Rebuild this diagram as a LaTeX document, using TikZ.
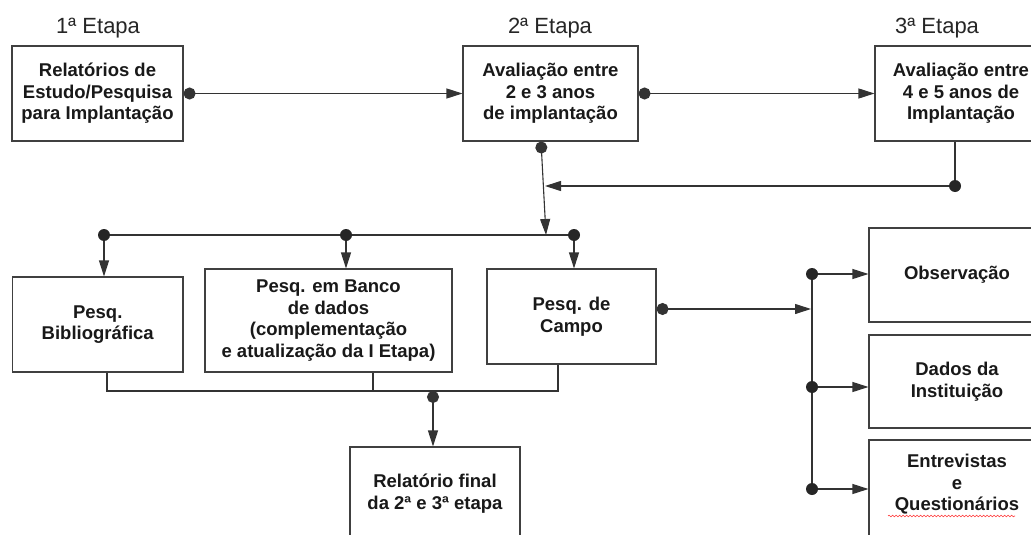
\documentclass[tikz,border=0pt]{standalone}
\usepackage{fontspec}
\setmainfont{Liberation Sans}
\usetikzlibrary{arrows.meta,decorations.pathmorphing}
\begin{document}
\begin{tikzpicture}[x=1pt,y=-1pt,
  box/.style={draw=black!75, line width=1.1pt, fill=white, inner sep=0pt},
  lbl/.style={font=\fontsize{18.5}{21.5}\selectfont\bfseries, align=center, text=black!90},
  ttl/.style={font=\fontsize{22}{24}\selectfont, text=black!85, anchor=base},
  link/.style={draw=black!80, line width=1.1pt},
  arr/.style={link, -{Triangle[length=16pt,width=10pt]}},
  darr/.style={link, {Circle[length=12pt]}-{Triangle[length=16pt,width=10pt]}},
  dotc/.style={fill=black!85},
]
\useasboundingbox (0,0) rectangle (1031,535);
\fill[white] (0,0) rectangle (1031,535);

% titles
\node[ttl] (t1) at (98,34) {1ª Etapa};
\node[ttl] (t2) at (550,34) {2ª Etapa};
\node[ttl] (t3) at (937,34) {3ª Etapa};

% top boxes
\node[box,lbl,minimum width=171pt,minimum height=95pt] (A) at (97.5,93.5) {Relatórios de\\Estudo/Pesquisa\\para Implantação};
\node[box,lbl,minimum width=175pt,minimum height=95pt] (B) at (550.5,93.5) {Avaliação entre\\2 e 3 anos\\de implantação};
\node[box,lbl,minimum width=172pt,minimum height=95pt] (C) at (961,93.5) {Avaliação entre\\4 e 5 anos de\\Implantação};

% middle boxes
\node[box,lbl,minimum width=170.5pt,minimum height=95pt] (Bib) at (97.75,324.5) {Pesq.\\Bibliográfica};
\node[box,lbl,minimum width=247pt,minimum height=103pt] (Banco) at (328.5,320.5) {Pesq. em Banco\\de dados\\(complementação\\e atualização da I Etapa)};
\node[box,lbl,minimum width=169pt,minimum height=95pt] (Campo) at (571.5,316.5) {Pesq. de\\Campo};
\node[box,lbl,minimum width=170pt,minimum height=93pt] (Final) at (435,493.5) {Relatório final\\da 2ª e 3ª etapa};

% right boxes
\node[box,lbl,minimum width=176pt,minimum height=94pt] (Obs) at (957,275) {Observação};
\node[box,lbl,minimum width=176pt,minimum height=93pt] (Dados) at (957,381.5) {Dados da\\Instituição};
\node[box,minimum width=176pt,minimum height=100pt] (Entr) at (957,490) {};
\node[lbl] (et) at (957,484.5) {Entrevistas\\e\\Questionários};
\draw[red!80, line width=0.6pt, decorate, decoration={snake, amplitude=0.8pt, segment length=3.5pt}] (888,516) -- (1015,516);

% top arrows
\draw[darr] (A.east) -- (B.west);
\draw[darr] (B.east) -- (C.west);

% from 2nd stage down to bus
\coordinate (bj) at (546,235);
\draw[darr] ([xshift=-9.5pt]B.south) -- (bj);

% feedback from 3rd stage
\coordinate (fb) at (955,186);
\coordinate (fbend) at (545,186);
\draw[link] ([xshift=-6pt]C.south) -- (fb);
\draw[arr] (fb) -- (fbend);
\fill[dotc] (fb) circle (6pt);

% distribution bus
\coordinate (j1) at (104,235);
\coordinate (j2) at (346,235);
\coordinate (j3) at (574,235);
\draw[link] (j1) -- (j3);
\draw[arr] (j1) -- (j1 |- Bib.north);
\draw[arr] (j2) -- (j2 |- Banco.north);
\draw[arr] (j3) -- (j3 |- Campo.north);
\foreach \p in {j1,j2,j3} \fill[dotc] (\p) circle (6pt);

% collecting bus
\coordinate (k1) at (107,391);
\coordinate (k2) at (373,391);
\coordinate (k3) at (558,391);
\coordinate (kd) at (433,391);
\draw[link] (k1 |- Bib.south) -- (k1) -- (k3) -- (k3 |- Campo.south);
\draw[link] (k2 |- Banco.south) -- (k2);
\draw[darr] (kd) -- (kd |- Final.north);

% field research branches
\coordinate (cv) at (811,309);
\draw[darr] (Campo.east |- cv) -- (cv);
\coordinate (v1) at (812,274);
\coordinate (v2) at (812,387);
\coordinate (v3) at (812,489);
\draw[link] (v1) -- (v3);
\draw[arr] (v1) -- (v1 -| Obs.west);
\draw[arr] (v2) -- (v2 -| Dados.west);
\draw[arr] (v3) -- (v3 -| Entr.west);
\foreach \p in {v1,v2,v3} \fill[dotc] (\p) circle (6pt);
\end{tikzpicture}
\end{document}
